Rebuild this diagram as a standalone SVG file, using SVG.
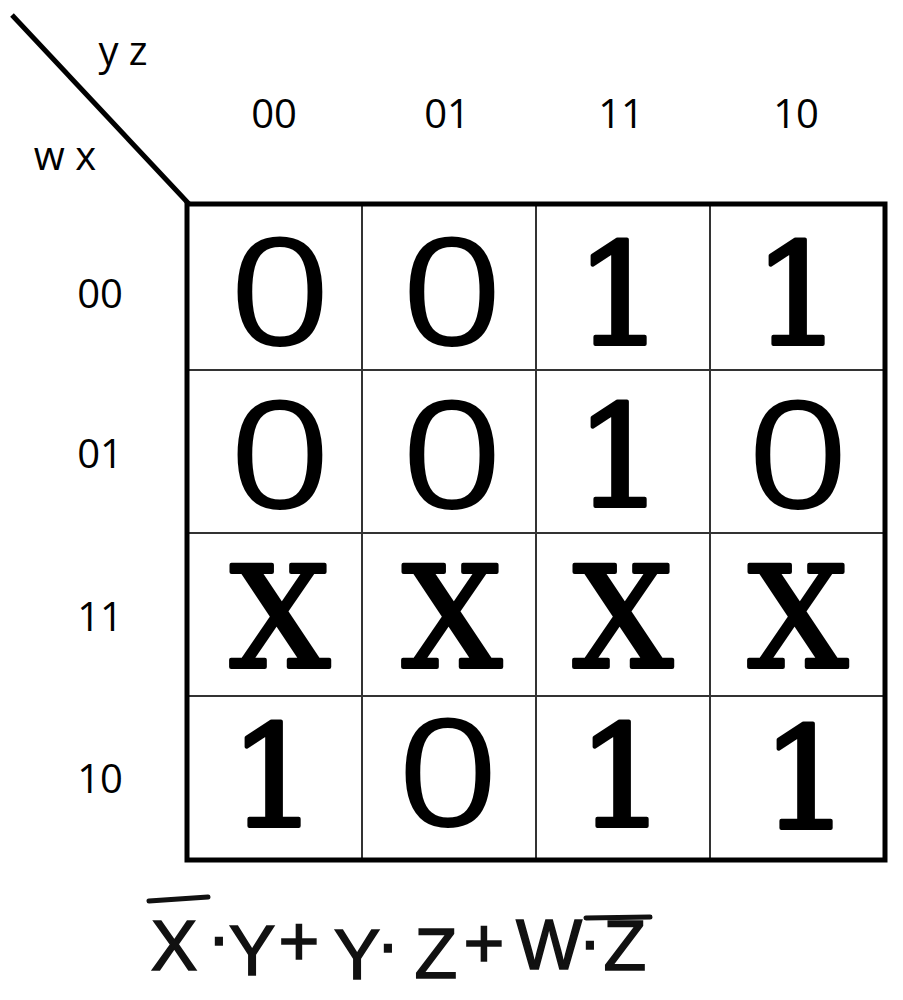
<svg xmlns="http://www.w3.org/2000/svg" width="903" height="1000" viewBox="0 0 903 1000">
<style>
.lbl{font-family:"Open Sans","Liberation Sans",sans-serif;font-size:40px;fill:#000;text-anchor:middle}
.z{font-family:"Open Sans","Liberation Sans",sans-serif;font-size:150px;fill:#000;text-anchor:middle}
.s{font-family:"DejaVu Serif","Liberation Serif",serif;font-size:140px;fill:#000;stroke:#000;stroke-width:4;stroke-linejoin:round;text-anchor:middle}
.hw{font-family:"Liberation Sans",sans-serif;font-size:70px;fill:#111;stroke:#111;stroke-width:1.5;text-anchor:middle}
.thin{stroke:#333;stroke-width:2;fill:none}
.thick{stroke:#000;stroke-width:5;fill:none}
</style>
<rect width="903" height="1000" fill="#fff"/>
<g id="grid">
<line class="thin" x1="362" y1="204" x2="362" y2="860"/>
<line class="thin" x1="536" y1="204" x2="536" y2="860"/>
<line class="thin" x1="710" y1="204" x2="710" y2="860"/>
<line class="thin" x1="187" y1="370" x2="885" y2="370"/>
<line class="thin" x1="187" y1="533" x2="885" y2="533"/>
<line class="thin" x1="187" y1="696" x2="885" y2="696"/>
<rect class="thick" x="187" y="204" width="698" height="656"/>
<line class="thick" x1="12" y1="15" x2="189" y2="204"/>
</g>
<g id="axis-labels">
<text class="lbl" x="123" y="65">y z</text>
<text class="lbl" x="65" y="170">w x</text>
<text class="lbl" x="274" y="128">00</text>
<text class="lbl" x="447" y="128">01</text>
<text class="lbl" x="621" y="128">11</text>
<text class="lbl" x="796" y="128">10</text>
<text class="lbl" x="100" y="308">00</text>
<text class="lbl" x="100" y="468">01</text>
<text class="lbl" x="100" y="631">11</text>
<text class="lbl" x="100" y="793">10</text>
</g>
<g id="cell-00-00"><text class="z" transform="translate(280,346) scale(1.2,1)">0</text></g>
<g id="cell-00-01"><text class="z" transform="translate(452,346) scale(1.2,1)">0</text></g>
<g id="cell-00-11"><text class="s" x="620" y="344">1</text></g>
<g id="cell-00-10"><text class="s" x="798" y="344">1</text></g>
<g id="cell-01-00"><text class="z" transform="translate(280,509) scale(1.2,1)">0</text></g>
<g id="cell-01-01"><text class="z" transform="translate(452,509) scale(1.2,1)">0</text></g>
<g id="cell-01-11"><text class="s" x="620" y="506">1</text></g>
<g id="cell-01-10"><text class="z" transform="translate(798,509) scale(1.2,1)">0</text></g>
<g id="cell-11-00"><text class="s" x="280" y="667">X</text></g>
<g id="cell-11-01"><text class="s" x="452" y="667">X</text></g>
<g id="cell-11-11"><text class="s" x="623" y="667">X</text></g>
<g id="cell-11-10"><text class="s" x="798" y="667">X</text></g>
<g id="cell-10-00"><text class="s" x="274" y="826">1</text></g>
<g id="cell-10-01"><text class="z" transform="translate(448,827) scale(1.2,1)">0</text></g>
<g id="cell-10-11"><text class="s" x="622" y="826">1</text></g>
<g id="cell-10-10"><text class="s" x="806" y="828">1</text></g>
<g id="expression">
<line x1="149" y1="901" x2="208" y2="897" stroke="#111" stroke-width="5" stroke-linecap="round"/>
<line x1="586" y1="918" x2="650" y2="917" stroke="#111" stroke-width="5" stroke-linecap="round"/>
<text class="hw" x="174" y="970">X</text>
<text class="hw" x="219" y="960">·</text>
<text class="hw" x="252" y="975">Y</text>
<text class="hw" x="299" y="965">+</text>
<text class="hw" x="357" y="979">Y</text>
<text class="hw" x="388" y="967">·</text>
<text class="hw" x="436" y="978">Z</text>
<text class="hw" x="484" y="967">+</text>
<text class="hw" x="549" y="969">W</text>
<text class="hw" x="590" y="964">·</text>
<text class="hw" x="625" y="970">Z</text>
</g>
</svg>
